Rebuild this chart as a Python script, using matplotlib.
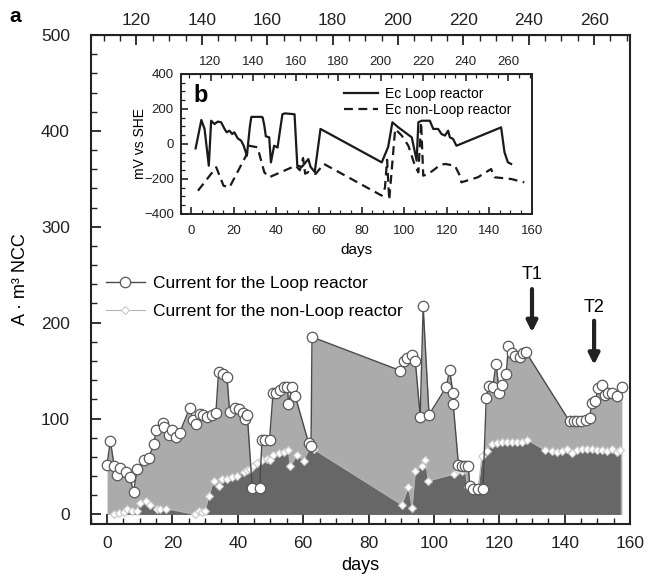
import matplotlib
matplotlib.use('Agg')
import matplotlib.pyplot as plt
from matplotlib.ticker import MultipleLocator

plt.rcParams['font.family'] = ['Liberation Sans', 'DejaVu Sans']

# ---------------- data (main panel a) ----------------
loop_days = [0, 1, 2.2, 3, 4, 5.9, 7, 8.1, 9.2, 11.2, 12.7, 14.3, 15, 17, 17.5, 18.8, 20, 21.2, 22.2,
             25.3, 26.3, 27.3, 28.3, 29.5, 30.7, 32, 33.3, 34.1, 35.4, 36.7, 37.5, 39.2, 40.3, 41.5,
             42.2, 42.9, 44.4, 46.7, 47.4, 48.4, 49.7, 50.8, 51.8, 53, 54.2, 55.2, 55.5, 56.6, 57.6,
             61.7, 62.4, 62.7, 89.7, 90.7, 91.7, 93.2, 94.3, 95.8, 96.7, 98.5, 103.8, 104.8, 105.8,
             105.9, 107.5, 108.5, 109.5, 110.5, 111, 112, 113.5, 115, 116, 116.7, 118, 119, 120, 120.8,
             122.1, 122.8, 123.9, 124.9, 126.2, 127.2, 128.2, 141.5, 142.7, 143.7, 145, 146.6, 147.6,
             148.3, 149.3, 150.3, 151.4, 152.4, 153.4, 154.4, 155.9, 157.5]
loop_current = [52, 77, 50, 41, 48, 44, 39, 23, 47, 57, 59, 73, 88, 95, 91, 83, 88, 81, 85,
                111, 98, 94, 105, 104, 102, 104, 106, 148, 146, 143, 107, 111, 110, 106,
                99, 104, 28, 28, 78, 78, 78, 127, 127, 130, 133, 133, 115, 133, 123,
                74, 71, 185, 150, 160, 163, 166, 160, 102, 217, 104, 133, 151, 127,
                115, 52, 50, 51, 50, 30, 27, 27, 27, 121, 134, 133, 157, 127, 135,
                146, 176, 168, 165, 164, 168, 169, 97, 97, 97, 97, 98, 101,
                116, 118, 132, 135, 125, 127, 127, 123, 133]

nonloop_days = [2, 3.5, 5.1, 6.1, 7.6, 9.2, 10.2, 12, 13, 15.3, 16.3, 18.1, 27, 28, 29, 30, 31.1,
                32.6, 34.1, 35.2, 36.8, 38.3, 39.8, 41.8, 42.8, 43.8, 44.8, 45.9, 47.4, 48.9, 49.9,
                50.9, 52.5, 54, 55.5, 56, 58.1, 60.1, 62.2, 63.2, 90.2, 92.2, 93.3, 94.3, 96.3, 97.3,
                98.3, 106, 107.5, 108.5, 109.5, 110.3, 111, 112, 113.5, 114.7, 116.2, 117.7, 119.3,
                120.8, 122.3, 123.9, 125.4, 126.9, 128.4, 134, 136.1, 137.6, 139.1, 140.7, 142.2,
                143.7, 145.3, 146.8, 148.3, 149.9, 151.4, 152.9, 154.4, 156, 157]
nonloop_current = [0, 1, 2, 6, 3.5, 4, 12, 14, 10, 6, 6, 6, 0, 4, 2, 4, 19,
                   35, 30, 37, 37, 39, 40, 44, 46, 47, 50, 54, 57, 58, 57,
                   62, 64, 65, 67, 50, 62, 56, 71, 68, 10, 29, 7, 45, 50, 57,
                   35, 42, 46, 45, 47, 29, 28, 26, 26, 61, 66, 73, 74,
                   75, 75, 75, 75, 76, 78, 67, 66, 65, 66, 68, 64,
                   67, 68, 68, 68, 67, 67, 66, 68, 65, 67]

# ---------------- data (inset b) ----------------
ec_loop_days = [2, 4.7, 6.2, 8.2, 9.3, 10.9, 12.4, 14, 15.6, 16.6, 17.9, 19.2, 20.2, 21.8, 23.4,
                24.6, 26.1, 27.5, 28.2, 33, 33.5, 34.3, 35, 36.6, 37.4, 38.9, 40.5, 42.8, 44,
                48.5, 49.8, 52, 55, 56, 58, 60.7, 89.5, 92.5, 94.5, 97.3, 100.4, 103.6, 105.9,
                106.7, 108.2, 112.1, 113.7, 116, 117.6, 119.2, 120.7, 121.5, 123, 124.6, 145.6,
                147.2, 148.8, 150.3]
ec_loop = [-25, 137, 86, -124, 133, 114, 128, 124, 86, 67, 76, 57, 67, 32, 19,
           -10, -67, 100, 155, 155, 152, 105, 44, 38, -105, -10, -20, 170, 175,
           170, -124, -130, -86, -130, -160, 86, -105, -17, 124, 95, 67, 38, -95,
           124, 133, 133, 86, 86, 57, 48, 76, 38, 29, -10, 95,
           -48, -105, -114]

ec_nonloop_days = [3.1, 11.7, 15.1, 17.9, 25.7, 27.2, 31.1, 34.3, 36.6, 49, 51, 52.5, 53.5, 55,
                   58.4, 62.3, 89.5, 91, 92, 93, 95.8, 98.9, 102, 105.1, 106.7, 108, 109, 111.4,
                   114.5, 116.9, 119.2, 123.9, 126.2, 126.9, 134.7, 140.9, 142.5, 150.3, 156.5]
ec_nonloop = [-267, -133, -238, -248, -67, -10, -19, -162, -190, -124, -150, -80, -170, -160,
              -171, -114, -295, -250, -90, -320, 86, 48, -10, -124, -162, 124, -181, -171,
              -143, -120, -114, -124, -181, -219, -190, -143, -190, -200, -219]

top_offset = 111  # top axis = days + offset
top_ticks = [120, 140, 160, 180, 200, 220, 240, 260]

LIGHT = '#ababab'
DARK = '#676767'

fig = plt.figure(figsize=(6.48, 5.79), dpi=100)
ax = fig.add_axes([0.140, 0.095, 0.8323, 0.8446])

ax.fill_between(loop_days, loop_current, 0, color=LIGHT, lw=0, zorder=1)
ax.fill_between(nonloop_days, nonloop_current, 0, color=DARK, lw=0, zorder=2)
ax.plot(nonloop_days, nonloop_current, color='#b5b5b5', lw=0.8, marker='D', ms=4.2,
        mfc='white', mec='#c8c8c8', mew=0.8, zorder=3, label='Current for the non-Loop reactor')
ax.plot(loop_days, loop_current, color='#4a4a4a', lw=1.0, marker='o', ms=7.5,
        mfc='white', mec='#5a5a5a', mew=0.9, zorder=4, label='Current for the Loop reactor')

ax.set_xlim(-5, 160)
ax.set_ylim(-10, 500)
ax.xaxis.set_major_locator(MultipleLocator(20))
ax.xaxis.set_minor_locator(MultipleLocator(5))
ax.yaxis.set_major_locator(MultipleLocator(100))
ax.yaxis.set_minor_locator(MultipleLocator(20))
ax.tick_params(which='both', direction='in', top=False, right=False, labelsize=12.5, colors='#222')
ax.tick_params(which='major', length=7, width=1.3)
ax.tick_params(which='minor', length=4, width=1.0)
ax.tick_params(axis='y', which='both', pad=15)
ax.tick_params(axis='x', which='both', pad=9)
for s in ax.spines.values():
    s.set_linewidth(1.5)
    s.set_color('#222')
ax.set_xlabel('days', fontsize=13)
ax.set_ylabel('A · m³ NCC', fontsize=13)
ax.xaxis.set_label_coords(0.5, -0.068)
ax.yaxis.set_label_coords(-0.114, 0.5)

sec = ax.secondary_xaxis('top', functions=(lambda x: x + top_offset, lambda x: x - top_offset))
sec.set_xticks(top_ticks)
sec.xaxis.set_minor_locator(MultipleLocator(5))
sec.tick_params(which='both', direction='in', labelsize=12.5, colors='#222', pad=5)
sec.tick_params(which='major', length=7, width=1.3)
sec.tick_params(which='minor', length=4, width=1.0)

h, l = ax.get_legend_handles_labels()
ax.legend(h[::-1], l[::-1], loc='upper left', bbox_to_anchor=(0.0, 0.54), frameon=False,
          fontsize=12.5, handlelength=2.2, handletextpad=0.5, labelspacing=0.75)

ax.annotate('', xy=(130, 190), xytext=(130, 235),
            arrowprops=dict(arrowstyle='-|>', lw=3, color='#222', mutation_scale=16,
                            shrinkA=0, shrinkB=0))
ax.text(130, 241, 'T1', ha='center', va='bottom', fontsize=13)
ax.annotate('', xy=(149, 156), xytext=(149, 202),
            arrowprops=dict(arrowstyle='-|>', lw=3, color='#222', mutation_scale=16,
                            shrinkA=0, shrinkB=0))
ax.text(149, 207, 'T2', ha='center', va='bottom', fontsize=13)

fig.text(0.015, 0.988, 'a', fontsize=15, fontweight='bold', va='top', ha='left')

# ---------------- inset ----------------
ins = fig.add_axes([0.2789, 0.6304, 0.5417, 0.2418])
ins.plot(ec_loop_days, ec_loop, color='#1a1a1a', lw=1.6, label='Ec Loop reactor')
ins.plot(ec_nonloop_days, ec_nonloop, color='#1a1a1a', lw=1.6, ls=(0, (4, 2.5)),
         label='Ec non-Loop reactor')
ins.set_xlim(-5, 160)
ins.set_ylim(-400, 400)
ins.xaxis.set_major_locator(MultipleLocator(20))
ins.xaxis.set_minor_locator(MultipleLocator(5))
ins.yaxis.set_major_locator(MultipleLocator(200))
ins.yaxis.set_minor_locator(MultipleLocator(50))
ins.tick_params(which='both', direction='in', top=False, right=False, labelsize=9.5,
                colors='#222')
ins.tick_params(axis='y', which='both', pad=5)
ins.tick_params(axis='x', which='both', pad=8)
ins.tick_params(which='major', length=5, width=1.2)
ins.tick_params(which='minor', length=3, width=0.9)
for s in ins.spines.values():
    s.set_linewidth(1.4)
    s.set_color('#222')
ins.set_xlabel('days', fontsize=11)
ins.set_ylabel('mV vs SHE', fontsize=10)
ins.xaxis.set_label_coords(0.5, -0.205)
ins.yaxis.set_label_coords(-0.096, 0.5)
isec = ins.secondary_xaxis('top', functions=(lambda x: x + top_offset, lambda x: x - top_offset))
isec.set_xticks(top_ticks)
isec.xaxis.set_minor_locator(MultipleLocator(5))
isec.tick_params(which='both', direction='in', labelsize=9.5, colors='#222', pad=4)
isec.tick_params(which='major', length=5, width=1.2)
isec.tick_params(which='minor', length=3, width=0.9)
ins.legend(loc='upper right', bbox_to_anchor=(0.965, 0.97), frameon=False, fontsize=10,
           handlelength=2.4, handletextpad=0.5, labelspacing=0.2, borderaxespad=0.2)
ins.text(0.035, 0.93, 'b', transform=ins.transAxes, fontsize=17, fontweight='bold',
         va='top', ha='left')

fig.savefig('out.png', dpi=100)
